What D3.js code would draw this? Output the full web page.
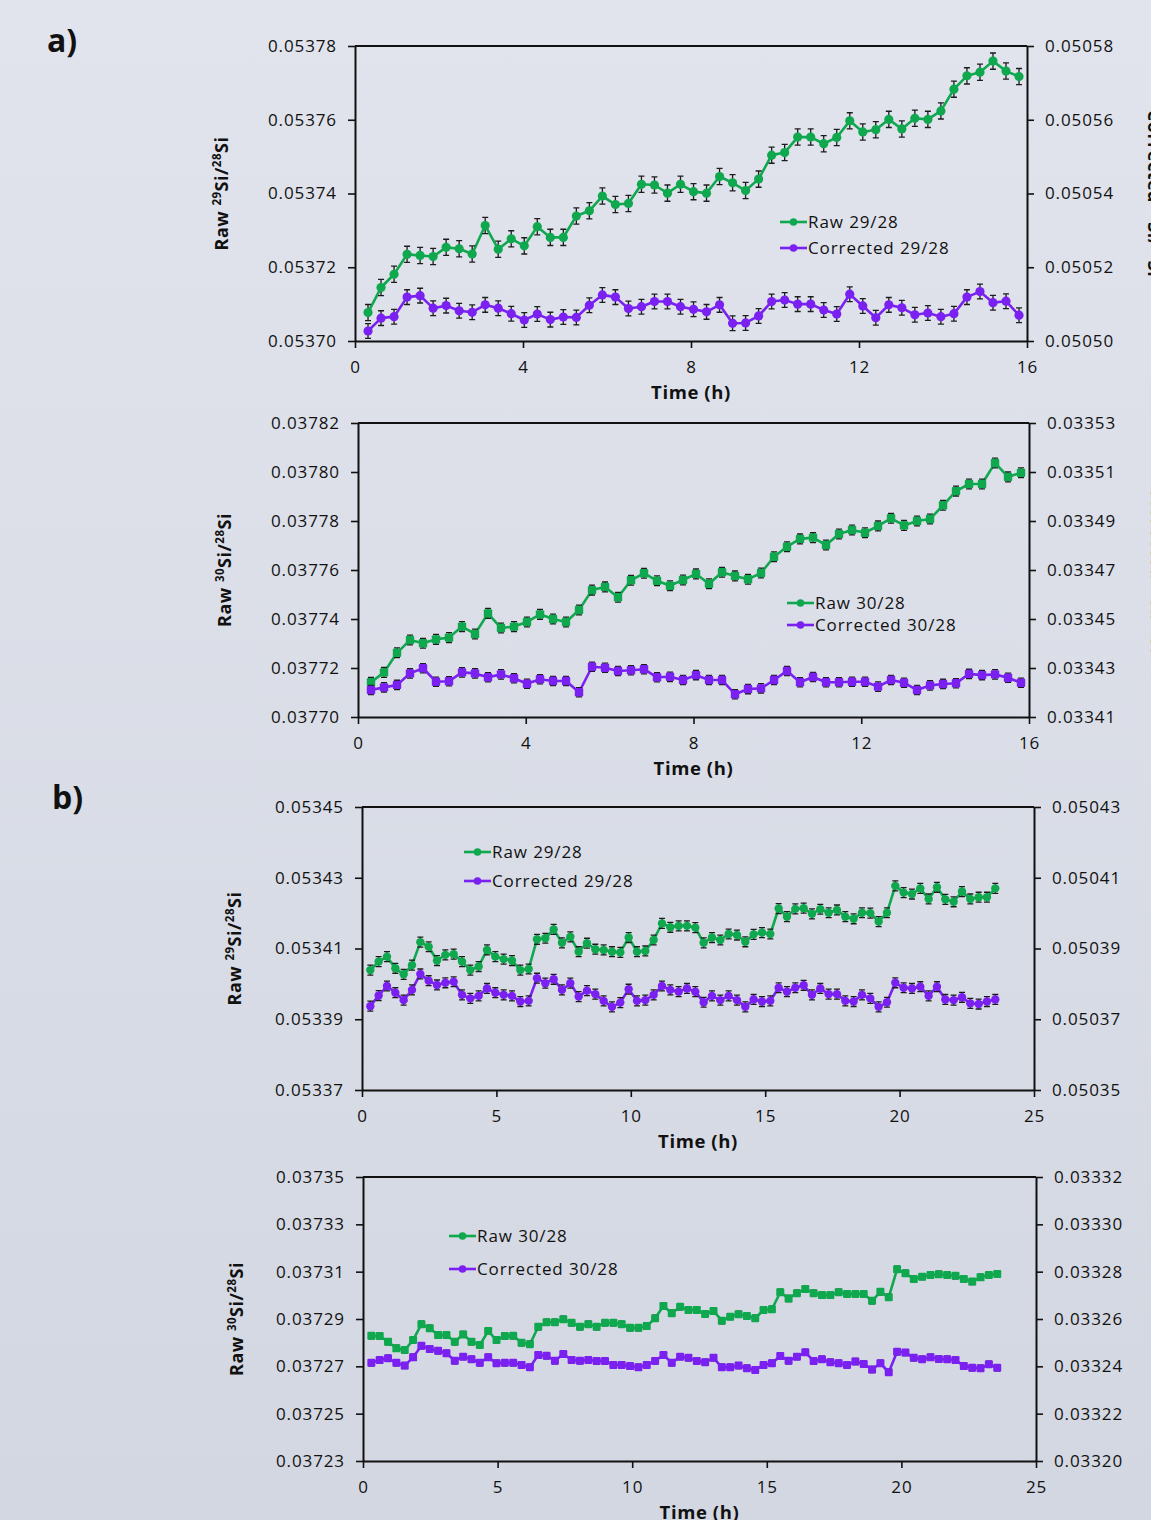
<!DOCTYPE html>
<html><head><meta charset="utf-8">
<script src="https://cdn.jsdelivr.net/npm/d3@7"></script>
<style>
html,body{margin:0;padding:0;}
body{width:1151px;height:1520px;overflow:hidden;background:linear-gradient(#e1e4ed,#d3d7e1);}
svg{display:block;font-family:"Open Sans",sans-serif;}
</style></head><body>
<svg id="chart" width="1151" height="1520"></svg>
<script>
// Sampling times (h)
const timeA = [0.31,0.62,0.93,1.24,1.55,1.86,2.17,2.48,2.79,3.10,3.41,3.72,4.03,4.34,4.65,4.96,5.27,5.58,5.89,6.20,
  6.51,6.82,7.13,7.44,7.75,8.06,8.37,8.68,8.99,9.30,9.61,9.92,10.23,10.54,10.85,11.16,11.47,11.78,12.09,12.40,
  12.71,13.02,13.33,13.64,13.95,14.26,14.57,14.88,15.19,15.50,15.81];
const timeB = [0.31,0.62,0.93,1.24,1.55,1.86,2.17,2.48,2.79,3.10,3.41,3.72,4.03,4.34,4.65,4.96,5.27,5.58,5.89,6.20,
  6.51,6.82,7.13,7.44,7.75,8.06,8.37,8.68,8.99,9.30,9.61,9.92,10.23,10.54,10.85,11.16,11.47,11.78,12.09,12.40,
  12.71,13.02,13.33,13.64,13.95,14.26,14.57,14.88,15.19,15.50,15.81,16.12,16.43,16.74,17.05,17.36,17.67,17.98,18.29,18.60,
  18.91,19.22,19.53,19.84,20.15,20.46,20.77,21.08,21.39,21.70,22.01,22.32,22.63,22.94,23.25,23.56];

// a) 29/28
const raw29A = [0.0537077,0.0537145,0.0537181,0.0537235,0.0537232,0.0537229,0.0537254,0.0537250,0.0537236,0.0537313,
  0.0537249,0.0537277,0.0537258,0.0537310,0.0537281,0.0537281,0.0537339,0.0537353,0.0537393,0.0537370,
  0.0537373,0.0537425,0.0537423,0.0537401,0.0537425,0.0537405,0.0537401,0.0537446,0.0537429,0.0537408,
  0.0537439,0.0537504,0.0537511,0.0537553,0.0537553,0.0537535,0.0537552,0.0537597,0.0537567,0.0537573,
  0.0537601,0.0537575,0.0537604,0.0537601,0.0537624,0.0537683,0.0537719,0.0537729,0.0537759,0.0537732,0.0537717];
const cor29A = [0.0505027,0.0505062,0.0505066,0.0505119,0.0505123,0.0505089,0.0505096,0.0505082,0.0505078,0.0505098,
  0.0505089,0.0505074,0.0505057,0.0505073,0.0505058,0.0505065,0.0505064,0.0505097,0.0505125,0.0505119,
  0.0505088,0.0505093,0.0505107,0.0505107,0.0505093,0.0505086,0.0505079,0.0505098,0.0505048,0.0505049,
  0.0505068,0.0505107,0.0505111,0.0505100,0.0505100,0.0505084,0.0505073,0.0505127,0.0505095,0.0505063,
  0.0505098,0.0505090,0.0505071,0.0505076,0.0505066,0.0505074,0.0505119,0.0505134,0.0505104,0.0505108,0.0505070];
// a) 30/28
const raw30A = [0.0377142,0.0377182,0.0377262,0.0377314,0.0377301,0.0377317,0.0377324,0.0377369,0.0377339,0.0377423,
  0.0377363,0.0377369,0.0377388,0.0377419,0.0377400,0.0377388,0.0377437,0.0377518,0.0377531,0.0377489,
  0.0377558,0.0377587,0.0377556,0.0377536,0.0377559,0.0377584,0.0377544,0.0377591,0.0377576,0.0377562,
  0.0377588,0.0377654,0.0377695,0.0377727,0.0377732,0.0377702,0.0377747,0.0377763,0.0377752,0.0377780,
  0.0377811,0.0377782,0.0377800,0.0377808,0.0377864,0.0377922,0.0377951,0.0377951,0.0378037,0.0377980,0.0377997];
const cor30A = [0.0334210,0.0334221,0.0334231,0.0334278,0.0334299,0.0334244,0.0334246,0.0334282,0.0334278,0.0334262,
  0.0334274,0.0334258,0.0334236,0.0334254,0.0334247,0.0334247,0.0334201,0.0334305,0.0334301,0.0334288,
  0.0334291,0.0334295,0.0334262,0.0334264,0.0334251,0.0334271,0.0334251,0.0334251,0.0334193,0.0334214,
  0.0334217,0.0334251,0.0334288,0.0334242,0.0334263,0.0334242,0.0334242,0.0334244,0.0334244,0.0334224,
  0.0334251,0.0334240,0.0334210,0.0334229,0.0334235,0.0334238,0.0334276,0.0334271,0.0334274,0.0334260,0.0334240];

// b) 29/28
const raw29B = [0.0534039,0.0534063,0.0534077,0.0534044,0.0534027,0.0534053,0.0534118,0.0534105,0.0534066,0.0534082,
  0.0534084,0.0534063,0.0534039,0.0534049,0.0534096,0.0534077,0.0534070,0.0534066,0.0534039,0.0534042,
  0.0534126,0.0534129,0.0534154,0.0534116,0.0534133,0.0534091,0.0534115,0.0534098,0.0534096,0.0534091,
  0.0534089,0.0534131,0.0534091,0.0534093,0.0534124,0.0534171,0.0534160,0.0534164,0.0534164,0.0534159,
  0.0534116,0.0534131,0.0534124,0.0534141,0.0534138,0.0534119,0.0534140,0.0534145,0.0534141,0.0534213,
  0.0534190,0.0534212,0.0534214,0.0534198,0.0534211,0.0534201,0.0534209,0.0534190,0.0534184,0.0534201,
  0.0534200,0.0534176,0.0534201,0.0534277,0.0534258,0.0534254,0.0534270,0.0534240,0.0534273,0.0534239,
  0.0534232,0.0534261,0.0534240,0.0534245,0.0534245,0.0534270];
const cor29B = [0.0503737,0.0503767,0.0503794,0.0503775,0.0503754,0.0503783,0.0503828,0.0503809,0.0503797,0.0503803,
  0.0503806,0.0503769,0.0503759,0.0503766,0.0503787,0.0503775,0.0503769,0.0503766,0.0503750,0.0503752,
  0.0503816,0.0503802,0.0503813,0.0503783,0.0503802,0.0503764,0.0503781,0.0503771,0.0503752,0.0503735,
  0.0503747,0.0503785,0.0503752,0.0503754,0.0503769,0.0503794,0.0503783,0.0503778,0.0503787,0.0503778,
  0.0503748,0.0503766,0.0503754,0.0503766,0.0503754,0.0503735,0.0503756,0.0503750,0.0503752,0.0503789,
  0.0503778,0.0503789,0.0503796,0.0503769,0.0503787,0.0503771,0.0503771,0.0503752,0.0503750,0.0503769,
  0.0503759,0.0503735,0.0503748,0.0503803,0.0503789,0.0503787,0.0503792,0.0503766,0.0503792,0.0503756,
  0.0503754,0.0503762,0.0503745,0.0503743,0.0503750,0.0503756];
// b) 30/28
const raw30B = [0.0372829,0.0372828,0.0372804,0.0372776,0.0372769,0.0372811,0.0372878,0.0372861,0.0372832,0.0372832,
  0.0372804,0.0372835,0.0372804,0.0372790,0.0372849,0.0372811,0.0372828,0.0372829,0.0372800,0.0372793,
  0.0372867,0.0372886,0.0372886,0.0372899,0.0372884,0.0372867,0.0372878,0.0372867,0.0372884,0.0372884,
  0.0372878,0.0372863,0.0372863,0.0372870,0.0372903,0.0372955,0.0372924,0.0372952,0.0372938,0.0372938,
  0.0372921,0.0372934,0.0372893,0.0372910,0.0372920,0.0372913,0.0372903,0.0372938,0.0372941,0.0373013,
  0.0372987,0.0373009,0.0373027,0.0373009,0.0373001,0.0373001,0.0373013,0.0373006,0.0373006,0.0373006,
  0.0372977,0.0373015,0.0372992,0.0373110,0.0373093,0.0373069,0.0373079,0.0373086,0.0373089,0.0373086,
  0.0373083,0.0373069,0.0373058,0.0373076,0.0373086,0.0373090];
const cor30B = [0.0332415,0.0332427,0.0332434,0.0332415,0.0332403,0.0332438,0.0332487,0.0332473,0.0332466,0.0332455,
  0.0332424,0.0332441,0.0332430,0.0332415,0.0332438,0.0332413,0.0332415,0.0332415,0.0332406,0.0332396,
  0.0332448,0.0332445,0.0332424,0.0332452,0.0332427,0.0332424,0.0332427,0.0332423,0.0332423,0.0332406,
  0.0332406,0.0332401,0.0332396,0.0332406,0.0332423,0.0332448,0.0332415,0.0332441,0.0332436,0.0332423,
  0.0332417,0.0332436,0.0332396,0.0332396,0.0332403,0.0332392,0.0332385,0.0332406,0.0332413,0.0332444,
  0.0332424,0.0332441,0.0332459,0.0332423,0.0332430,0.0332417,0.0332413,0.0332406,0.0332420,0.0332410,
  0.0332387,0.0332413,0.0332375,0.0332462,0.0332458,0.0332436,0.0332430,0.0332438,0.0332431,0.0332430,
  0.0332427,0.0332401,0.0332394,0.0332392,0.0332409,0.0332394];

// Standard errors per series
const errRaw29A = 2.2e-6, errCor29A = 2.0e-6;
const errRaw30A = 2.0e-6, errCor30A = 1.9e-6;
const errRaw29B = 1.4e-6, errCor29B = 1.4e-6;
const errRaw30B = 1.3e-6, errCor30B = 1.3e-6;

// Axis ticks
const xTicksA = [0, 4, 8, 12, 16];
const xTicksB = [0, 5, 10, 15, 20, 25];
const yTicks29AL = [0.05370,0.05372,0.05374,0.05376,0.05378];
const yTicks29AR = [0.05050,0.05052,0.05054,0.05056,0.05058];
const yTicks30AL = [0.03770,0.03772,0.03774,0.03776,0.03778,0.03780,0.03782];
const yTicks30AR = [0.03341,0.03343,0.03345,0.03347,0.03349,0.03351,0.03353];
const yTicks29BL = [0.05337,0.05339,0.05341,0.05343,0.05345];
const yTicks29BR = [0.05035,0.05037,0.05039,0.05041,0.05043];
const yTicks30BL = [0.03723,0.03725,0.03727,0.03729,0.03731,0.03733,0.03735];
const yTicks30BR = [0.03320,0.03322,0.03324,0.03326,0.03328,0.03330,0.03332];

const GREEN = "#0fa84e", PURPLE = "#7a20f0", INK = "#111";
const fmt5 = d3.format(".5f");
const svg = d3.select("#chart");

function styleAxis(sel) {
  sel.select(".domain").attr("stroke", INK).attr("stroke-width", 2);
  sel.selectAll(".tick line").attr("stroke", INK).attr("stroke-width", 1.6);
  sel.selectAll(".tick text").attr("fill", INK).style("font-size", "17px")
    .style("font-family", "'Open Sans',sans-serif").style("letter-spacing", "0.9px");
}

function isoLabel(textSel, parts) {
  // parts: [text, isSuperscript]
  parts.forEach(([t, sup]) => {
    const s = textSel.append("tspan").text(t);
    if (sup) s.attr("font-size", "11.5px").attr("dy", -7);
    else s.attr("dy", textSel.node().dataset.lastSup === "1" ? 7 : 0);
    textSel.node().dataset.lastSup = sup ? "1" : "0";
  });
}

function drawPanel(p) {
  const g = svg.append("g");
  const x = d3.scaleLinear().domain(p.xDomain).range([p.left, p.right]);
  const yL = d3.scaleLinear().domain(d3.extent(p.yLeftTicks)).range([p.bottom, p.top]);
  const yR = d3.scaleLinear().domain(d3.extent(p.yRightTicks)).range([p.bottom, p.top]);

  // frame top edge
  g.append("line").attr("x1", p.left).attr("x2", p.right).attr("y1", p.top).attr("y2", p.top)
    .attr("stroke", INK).attr("stroke-width", 2);

  g.append("g").attr("transform", `translate(${p.left},0)`)
    .call(d3.axisLeft(yL).tickValues(p.yLeftTicks).tickFormat(fmt5).tickSize(7).tickSizeOuter(0).tickPadding(11))
    .call(styleAxis);
  g.append("g").attr("transform", `translate(${p.right},0)`)
    .call(d3.axisRight(yR).tickValues(p.yRightTicks).tickFormat(fmt5).tickSize(7).tickSizeOuter(0).tickPadding(11))
    .call(styleAxis);
  g.append("g").attr("transform", `translate(0,${p.bottom})`)
    .call(d3.axisBottom(x).tickValues(p.xTicks).tickFormat(d3.format("d")).tickSize(7).tickSizeOuter(0).tickPadding(13))
    .call(styleAxis);

  // axis titles
  g.append("text").attr("x", (p.left + p.right) / 2).attr("y", p.bottom + 58)
    .attr("text-anchor", "middle").attr("font-weight", "bold").attr("font-size", "18.5px")
    .style("letter-spacing", "0.6px").attr("fill", INK).text("Time (h)");
  const yt = g.append("text")
    .attr("transform", `translate(${p.left - p.yTitleOffset},${(p.top + p.bottom) / 2}) rotate(-90)`)
    .attr("text-anchor", "middle").attr("font-weight", "bold").attr("font-size", "18px")
    .style("letter-spacing", "0.5px").attr("fill", INK);
  isoLabel(yt, [["Raw ", false], [p.iso, true], ["Si/", false], ["28", true], ["Si", false]]);

  if (p.rightTitleX) {
    const rt = g.append("text")
      .attr("transform", `translate(${p.rightTitleX},${(p.top + p.bottom) / 2}) rotate(90)`)
      .attr("text-anchor", "middle").attr("font-weight", "bold").attr("font-size", "18px")
      .style("letter-spacing", "0.5px").attr("fill", INK);
    isoLabel(rt, [["Corrected ", false], [p.iso, true], ["Si/", false], ["28", true], ["Si", false]]);
  }

  const series = [
    { vals: p.raw, err: p.errRaw, y: yL, color: GREEN },
    { vals: p.cor, err: p.errCor, y: yR, color: PURPLE }
  ];
  series.forEach(s => {
    const pts = p.time.map((t, i) => ({ t, v: s.vals[i] }));
    const line = d3.line().x(d => x(d.t)).y(d => s.y(d.v));
    g.append("path").datum(pts).attr("d", line).attr("fill", "none")
      .attr("stroke", s.color).attr("stroke-width", 2.6).attr("stroke-linejoin", "round");
    // error bars
    const eb = g.append("g").attr("stroke", "#1c1c1c").attr("stroke-width", 1.3).attr("fill", "none");
    eb.selectAll("path").data(pts).join("path")
      .attr("d", d => {
        const cx = x(d.t), y1 = s.y(d.v - s.err), y2 = s.y(d.v + s.err);
        return `M${cx},${y1}V${y2}M${cx - 3},${y1}H${cx + 3}M${cx - 3},${y2}H${cx + 3}`;
      });
    // markers
    const mk = g.append("g").attr("fill", s.color);
    if (p.marker === "circle") {
      mk.selectAll("circle").data(pts).join("circle")
        .attr("cx", d => x(d.t)).attr("cy", d => s.y(d.v)).attr("r", p.markerSize);
    } else {
      const h = p.markerSize;
      mk.selectAll("rect").data(pts).join("rect")
        .attr("x", d => x(d.t) - h).attr("y", d => s.y(d.v) - h)
        .attr("width", 2 * h).attr("height", 2 * h).attr("rx", 1.2);
    }
  });

  // legend
  const lg = g.append("g");
  [[p.legendLabels[0], GREEN, p.legend.y1], [p.legendLabels[1], PURPLE, p.legend.y2]].forEach(([lab, c, ly]) => {
    lg.append("line").attr("x1", p.legend.x).attr("x2", p.legend.x + 27).attr("y1", ly).attr("y2", ly)
      .attr("stroke", c).attr("stroke-width", 2.6);
    lg.append("circle").attr("cx", p.legend.x + 13.5).attr("cy", ly).attr("r", 3.8).attr("fill", c);
    lg.append("text").attr("x", p.legend.x + 28).attr("y", ly).attr("dy", "0.35em")
      .attr("font-size", "17px").style("letter-spacing", "0.9px").attr("fill", INK).text(lab);
  });
}

drawPanel({ left: 355, right: 1027, top: 46, bottom: 341, xDomain: [0, 16], xTicks: xTicksA,
  yLeftTicks: yTicks29AL, yRightTicks: yTicks29AR, time: timeA, raw: raw29A, cor: cor29A,
  errRaw: errRaw29A, errCor: errCor29A, marker: "circle", markerSize: 4.6, iso: "29",
  yTitleOffset: 127, rightTitleX: 1147.5,
  legend: { x: 780, y1: 222, y2: 248 }, legendLabels: ["Raw 29/28", "Corrected 29/28"] });

drawPanel({ left: 358, right: 1029, top: 423, bottom: 717, xDomain: [0, 16], xTicks: xTicksA,
  yLeftTicks: yTicks30AL, yRightTicks: yTicks30AR, time: timeA, raw: raw30A, cor: cor30A,
  errRaw: errRaw30A, errCor: errCor30A, marker: "square", markerSize: 4.2, iso: "30",
  yTitleOffset: 127, rightTitleX: 1150.5,
  legend: { x: 787, y1: 603, y2: 625 }, legendLabels: ["Raw 30/28", "Corrected 30/28"] });

drawPanel({ left: 362, right: 1034, top: 807, bottom: 1090, xDomain: [0, 25], xTicks: xTicksB,
  yLeftTicks: yTicks29BL, yRightTicks: yTicks29BR, time: timeB, raw: raw29B, cor: cor29B,
  errRaw: errRaw29B, errCor: errCor29B, marker: "circle", markerSize: 4.2, iso: "29",
  yTitleOffset: 121,
  legend: { x: 464, y1: 852, y2: 881 }, legendLabels: ["Raw 29/28", "Corrected 29/28"] });

drawPanel({ left: 363, right: 1036, top: 1177, bottom: 1461, xDomain: [0, 25], xTicks: xTicksB,
  yLeftTicks: yTicks30BL, yRightTicks: yTicks30BR, time: timeB, raw: raw30B, cor: cor30B,
  errRaw: errRaw30B, errCor: errCor30B, marker: "square", markerSize: 4.0, iso: "30",
  yTitleOffset: 120,
  legend: { x: 449, y1: 1236, y2: 1269 }, legendLabels: ["Raw 30/28", "Corrected 30/28"] });

// panel letters
svg.append("text").attr("x", 47).attr("y", 52).attr("font-weight", "bold").attr("font-size", "32px")
  .attr("fill", INK).text("a)");
svg.append("text").attr("x", 52).attr("y", 809).attr("font-weight", "bold").attr("font-size", "32px")
  .attr("fill", INK).text("b)");
</script>
</body></html>
